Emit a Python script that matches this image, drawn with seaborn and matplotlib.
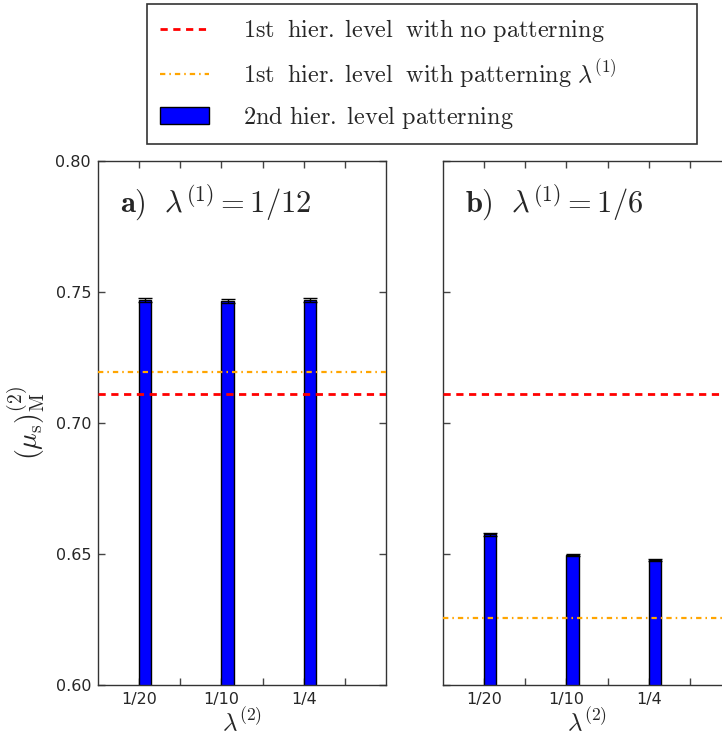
import numpy as np
import pandas as pd
import seaborn as sns
from matplotlib import pyplot as plt
from matplotlib.patches import Patch
from matplotlib.lines import Line2D

# Data
lam2_labels = ["1/20", "1/10", "1/4"]
lam2_pos = [1, 3, 5]
panel_titles = [r"$\mathbf{a)}\ \ \lambda^{(1)} = 1/12$", r"$\mathbf{b)}\ \ \lambda^{(1)} = 1/6$"]
mu_2nd = [[0.7470, 0.7466, 0.7470],
          [0.6575, 0.6497, 0.6477]]
mu_2nd_err = [[0.0008, 0.0007, 0.0008],
              [0.0005, 0.0004, 0.0005]]
mu_1st_no_pattern = [0.7110, 0.7110]
mu_1st_pattern = [0.7196, 0.6255]

sns.set_style("ticks", {"xtick.direction": "in", "ytick.direction": "in",
                        "axes.edgecolor": "black"})
plt.rcParams["font.family"] = ["DejaVu Sans"]
plt.rcParams["mathtext.fontset"] = "cm"

red_dash = (2.6, 2.0)
orange_dash = (2.4, 1.8, 0.7, 1.8)

fig = plt.figure(figsize=(7.22, 7.42), dpi=100)
bar_w = 0.3
ax_w, ax_h, ax_b = 288 / 722, 524 / 742, 57 / 742
lefts = [98 / 722, 443 / 722]

for i in range(2):
    ax = fig.add_axes([lefts[i], ax_b, ax_w, ax_h])
    df = pd.DataFrame({"x": [p + bar_w / 2 for p in lam2_pos], "mu": mu_2nd[i]})
    sns.barplot(data=df, x="x", y="mu", native_scale=True, width=bar_w / 2,
                color="blue", saturation=1, edgecolor="black", linewidth=1,
                errorbar=None, ax=ax, zorder=2)
    ax.errorbar(df["x"], df["mu"], yerr=mu_2nd_err[i], fmt="none",
                ecolor="black", capsize=5, elinewidth=1, capthick=1, zorder=3)
    ax.axhline(mu_1st_no_pattern[i], color="red", ls=(0, red_dash), lw=2, zorder=4)
    ax.axhline(mu_1st_pattern[i], color="orange", ls=(0, orange_dash), lw=1.6, zorder=4)

    ax.set_xlim(0, 7)
    ax.set_ylim(0.60, 0.80)
    ax.set_xticks(range(1, 7))
    ax.set_xticklabels([lam2_labels[j // 2] if j % 2 == 0 else "" for j in range(6)])
    ax.set_yticks(np.arange(0.60, 0.801, 0.05))
    ax.tick_params(top=True, right=True, length=5, width=1, labelsize=11.5,
                   color="#444444", pad=5)
    for s in ax.spines.values():
        s.set_linewidth(1)
        s.set_color("#333333")
    ax.set_xlabel(r"$\lambda^{(2)}$", fontsize=18, labelpad=0)
    if i == 0:
        ax.set_yticklabels(["%.2f" % v for v in np.arange(0.60, 0.801, 0.05)])
        ax.set_ylabel(r"$(\mu_{\rm s})^{(2)}_{\rm M}$", fontsize=20, labelpad=6)
    else:
        ax.set_yticklabels([])
        ax.set_ylabel("")
    ax.text(0.075, 0.92, panel_titles[i], transform=ax.transAxes,
            fontsize=22, va="center", ha="left")

handles = [Line2D([], [], color="red", ls=(0, red_dash), lw=2),
           Line2D([], [], color="orange", ls=(0, orange_dash), lw=1.6),
           Patch(facecolor="blue", edgecolor="black")]
labels = [r"$\mathrm{1st\;\ hier.\;level\;\ with\ no\ patterning}$",
          r"$\mathrm{1st\;\ hier.\;level\;\ with\ patterning}\ \lambda^{(1)}$",
          r"$\mathrm{2nd\ hier.\;level\ patterning}$"]
leg = fig.legend(handles, labels, loc="upper left", mode="expand",
                 bbox_to_anchor=(147 / 722, 1 - 145 / 742, 550 / 722, 141 / 742),
                 fontsize=17.5, frameon=True, fancybox=False, edgecolor="black",
                 handlelength=2.0, handletextpad=1.4, labelspacing=0.55,
                 borderpad=0.55, borderaxespad=0)
leg.get_frame().set_linewidth(1.2)

fig.savefig("out.png", dpi=100)
